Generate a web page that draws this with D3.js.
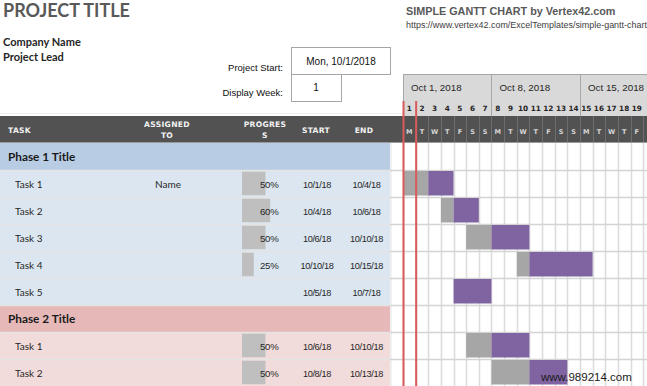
<!DOCTYPE html>
<html><head><meta charset="utf-8">
<script src="https://cdn.jsdelivr.net/npm/d3@7"></script>
<style>html,body{margin:0;padding:0;background:#fff;overflow:hidden}</style>
</head><body><svg id="c" width="647" height="386"></svg>
<script>
// ---------- data ----------
const rowNames   = ["Phase 1 Title","Task 1","Task 2","Task 3","Task 4","Task 5","Phase 2 Title","Task 1","Task 2"];
const rowIsPhase = [true,false,false,false,false,false,true,false,false];
const rowPhase   = [1,1,1,1,1,1,2,2,2];
const assignedTo = ["","Name","","","","","","",""];
const progress   = [null,0.5,0.6,0.5,0.25,null,null,0.5,0.5];
const startDates = [null,"2018-10-01","2018-10-04","2018-10-06","2018-10-10","2018-10-05",null,"2018-10-06","2018-10-08"];
const endDates   = [null,"2018-10-04","2018-10-06","2018-10-10","2018-10-15","2018-10-07",null,"2018-10-10","2018-10-13"];
const dayLetters = ["M","T","W","T","F","S","S"];
const projectStart = "2018-10-01";
const displayWeek = 1;
const headerCols = [
  {lines:["TASK"], anchor:"start"},
  {lines:["ASSIGNED","TO"], anchor:"middle"},
  {lines:["PROGRES","S"], anchor:"middle"},
  {lines:["START"], anchor:"middle"},
  {lines:["END"], anchor:"middle"}
];
const headerColX = [8,167,265,316,364];

// ---------- helpers ----------
const parse = d3.utcParse("%Y-%m-%d");
const fmtShort = d3.utcFormat("%-m/%-d/%y");
const fmtWeek = d3.utcFormat("%b %-d, %Y");
const fmtStart = d3.utcFormat("%a, %-m/%-d/%Y");
const fmtDay = d3.utcFormat("%-d");

const svg = d3.select("#c");
const W = 647, H = 386;

const t0 = parse(projectStart);
const t1 = d3.utcDay.offset(t0, 21);
const dayW = 12.64;
const x = d3.scaleUtc().domain([t0, t1]).range([403, 403 + 21*dayW]);
const days = d3.utcDay.range(t0, t1);
const visDays = days.filter(d => x(d) + dayW <= W);
const weeks = d3.utcMonday.range(t0, t1);

const y = d3.scaleBand().domain(d3.range(rowNames.length)).range([143, 143 + 27*rowNames.length]);
const pw = d3.scaleLinear().domain([0,1]).range([0,47]);

const phaseFill = {1:"#b8cce4", 2:"#e6b8b7"};
const taskFill  = {1:"#dce6f1", 2:"#f2dcdb"};

// ---------- top texts ----------
svg.append("text").attr("x",3).attr("y",17).text("PROJECT TITLE")
  .attr("font-family","Lato").attr("font-weight","bold").attr("font-size",18).attr("fill","#595959");
svg.append("text").attr("x",3).attr("y",46).text("Company Name")
  .attr("font-family","Lato").attr("font-weight","bold").attr("font-size",11).attr("fill","#262626");
svg.append("text").attr("x",3).attr("y",61).text("Project Lead")
  .attr("font-family","Lato").attr("font-weight","bold").attr("font-size",11).attr("fill","#262626");

svg.append("text").attr("x",406).attr("y",15).text("SIMPLE GANTT CHART by Vertex42.com")
  .attr("font-family","Liberation Sans").attr("font-weight","bold").attr("font-size",10.8).attr("fill","#595959");
svg.append("text").attr("x",406).attr("y",28).text("https://www.vertex42.com/ExcelTemplates/simple-gantt-chart.html")
  .attr("font-family","Liberation Sans").attr("font-size",8.95).attr("fill","#404040");

// input boxes
svg.append("rect").attr("x",291.5).attr("y",47.5).attr("width",99).attr("height",27)
  .attr("fill","#fff").attr("stroke","#a6a6a6");
svg.append("rect").attr("x",291.5).attr("y",74.5).attr("width",50).attr("height",27)
  .attr("fill","#fff").attr("stroke","#a6a6a6");
svg.append("text").attr("x",341).attr("y",65).attr("text-anchor","middle").text(fmtStart(t0))
  .attr("font-family","Liberation Sans").attr("font-size",10).attr("fill","#111");
svg.append("text").attr("x",316).attr("y",91).attr("text-anchor","middle").text(displayWeek)
  .attr("font-family","Liberation Sans").attr("font-size",10).attr("fill","#111");
svg.append("text").attr("x",283).attr("y",71).attr("text-anchor","end").text("Project Start:")
  .attr("font-family","Liberation Sans").attr("font-size",9.5).attr("fill","#111");
svg.append("text").attr("x",283).attr("y",96).attr("text-anchor","end").text("Display Week:")
  .attr("font-family","Liberation Sans").attr("font-size",9.5).attr("fill","#111");

svg.append("line").attr("x1",0).attr("x2",403).attr("y1",113.5).attr("y2",113.5).attr("stroke","#ececec");

// ---------- gantt date header ----------
svg.append("rect").attr("x",403).attr("y",74).attr("width",W-403).attr("height",42).attr("fill","#d9d9d9");
svg.append("line").attr("x1",403).attr("x2",W).attr("y1",74.5).attr("y2",74.5).attr("stroke","#a6a6a6");
svg.selectAll(".wsep").data(weeks).join("line")
  .attr("x1",d=>Math.round(x(d))+0.5).attr("x2",d=>Math.round(x(d))+0.5)
  .attr("y1",74).attr("y2",116).attr("stroke","#a6a6a6");
svg.selectAll(".wlab").data(weeks).join("text")
  .attr("x",d=>x(d)+8).attr("y",90.5).text(d=>fmtWeek(d))
  .attr("font-family","Liberation Sans").attr("font-size",9.8).attr("fill","#262626");
svg.selectAll(".dnum").data(visDays).join("text")
  .attr("x",d=>x(d)+dayW/2).attr("y",110.5).attr("text-anchor","middle").text(d=>fmtDay(d))
  .attr("font-family","DejaVu Sans").attr("font-weight","bold").attr("font-size",7.3).attr("fill","#262626");

// ---------- dark header band ----------
svg.append("rect").attr("x",0).attr("y",116).attr("width",W).attr("height",27).attr("fill","#525252");
svg.append("line").attr("x1",0).attr("x2",W).attr("y1",142.5).attr("y2",142.5).attr("stroke","#9a9a9a");
svg.selectAll(".bsep").data(days).join("line")
  .attr("x1",d=>Math.round(x(d))+0.5).attr("x2",d=>Math.round(x(d))+0.5)
  .attr("y1",116).attr("y2",142).attr("stroke","#6e6e6e");
svg.selectAll(".dlet").data(visDays).join("text")
  .attr("x",d=>x(d)+dayW/2).attr("y",133.5).attr("text-anchor","middle")
  .text(d=>dayLetters[(d.getUTCDay()+6)%7])
  .attr("font-family","DejaVu Sans").attr("font-weight","bold").attr("font-size",6.5).attr("fill","#d6d6d6");

headerCols.forEach((h,i)=>{
  const lines = h.lines;
  const ys = lines.length===2 ? [127.3,138.3] : [132.5];
  lines.forEach((ln,j)=>{
    svg.append("text").attr("x",headerColX[i]).attr("y",ys[j]).attr("text-anchor",h.anchor).text(ln)
      .attr("font-family","DejaVu Sans").attr("font-weight","bold").attr("font-size",7.6)
      .attr("letter-spacing",0.3).attr("fill","#f2f2f2");
  });
});

// ---------- left table ----------
const rows = d3.range(rowNames.length);
svg.selectAll(".rbg").data(rows).join("rect")
  .attr("x",0).attr("y",i=>y(i)).attr("width",390).attr("height",y.bandwidth())
  .attr("fill",i=>rowIsPhase[i]?phaseFill[rowPhase[i]]:taskFill[rowPhase[i]]);
svg.selectAll(".rsep").data(rows.filter(i=>i>0)).join("line")
  .attr("x1",0).attr("x2",390).attr("y1",i=>y(i)+0.5).attr("y2",i=>y(i)+0.5)
  .attr("stroke","#e4e4e4").attr("stroke-width",1.6);

svg.selectAll(".pbar").data(rows.filter(i=>progress[i]!=null)).join("rect")
  .attr("x",242).attr("y",i=>y(i)+1.7).attr("width",i=>pw(progress[i])).attr("height",23.5)
  .attr("fill","#bfbfbf");

svg.selectAll(".rname").data(rows).join("text")
  .attr("x",i=>rowIsPhase[i]?8:15).attr("y",i=>y(i)+18)
  .text(i=>rowNames[i])
  .attr("font-family","Lato").attr("font-weight",i=>rowIsPhase[i]?"bold":"normal")
  .attr("font-size",i=>rowIsPhase[i]?11.8:10).attr("fill",i=>rowIsPhase[i]?"#1a1a1a":"#262626");
svg.selectAll(".rassign").data(rows.filter(i=>assignedTo[i])).join("text")
  .attr("x",168).attr("y",i=>y(i)+18).attr("text-anchor","middle").text(i=>assignedTo[i])
  .attr("font-family","Lato").attr("font-size",10).attr("fill","#262626");
svg.selectAll(".rpct").data(rows.filter(i=>progress[i]!=null)).join("text")
  .attr("x",278.5).attr("y",i=>y(i)+17.5).attr("text-anchor","end")
  .text(i=>d3.format(".0%")(progress[i]))
  .attr("font-family","Liberation Sans").attr("font-size",9.6).attr("letter-spacing",-0.2).attr("fill","#262626");
svg.selectAll(".rstart").data(rows.filter(i=>startDates[i])).join("text")
  .attr("x",317).attr("y",i=>y(i)+17.5).attr("text-anchor","middle")
  .text(i=>fmtShort(parse(startDates[i])))
  .attr("font-family","Liberation Sans").attr("font-size",9.2).attr("letter-spacing",-0.35).attr("fill","#262626");
svg.selectAll(".rend").data(rows.filter(i=>endDates[i])).join("text")
  .attr("x",366.5).attr("y",i=>y(i)+17.5).attr("text-anchor","middle")
  .text(i=>fmtShort(parse(endDates[i])))
  .attr("font-family","Liberation Sans").attr("font-size",9.2).attr("letter-spacing",-0.35).attr("fill","#262626");

// ---------- gantt body ----------
const yTop = y.range()[0], yBot = y.range()[1];
svg.append("rect").attr("x",390).attr("y",yTop).attr("width",W-390).attr("height",yBot-yTop).attr("fill","#fff");
svg.selectAll(".vgrid").data(days).join("line")
  .attr("x1",d=>Math.round(x(d))+0.5).attr("x2",d=>Math.round(x(d))+0.5)
  .attr("y1",yTop).attr("y2",yBot).attr("stroke","#dcdcdc").attr("stroke-width",1.6);
svg.append("line").attr("x1",391).attr("x2",391).attr("y1",yTop).attr("y2",yBot).attr("stroke","#e2e2e2");
svg.selectAll(".hgrid").data(rows.filter(i=>i>0)).join("line")
  .attr("x1",390).attr("x2",W).attr("y1",i=>y(i)+0.5).attr("y2",i=>y(i)+0.5)
  .attr("stroke","#d4d4d4").attr("stroke-width",1.6);

const barRows = rows.filter(i=>startDates[i]);
barRows.forEach(i=>{
  const s = parse(startDates[i]);
  const e = d3.utcDay.offset(parse(endDates[i]),1);
  const dur = d3.utcDay.count(s,e);
  const done = Math.floor(dur*(progress[i]||0));
  const m = d3.utcDay.offset(s,done);
  if (done>0) svg.append("rect").attr("x",x(s)).attr("y",y(i)+1).attr("width",x(m)-x(s)).attr("height",y.bandwidth()-2.5)
    .attr("fill","#a6a6a6");
  svg.append("rect").attr("x",x(m)).attr("y",y(i)+1).attr("width",x(e)-x(m)).attr("height",y.bandwidth()-2.5)
    .attr("fill","#8064a2");
});

// today marker (project start column)
const todayCol = [t0, d3.utcDay.offset(t0,1)];
svg.selectAll(".today").data(todayCol).join("line")
  .attr("x1",d=>x(d)+0.5).attr("x2",d=>x(d)+0.5).attr("y1",101).attr("y2",H)
  .attr("stroke","#d85a5a").attr("stroke-width",2);

// watermark
svg.append("text").attr("x",541).attr("y",381).text("www.989214.com")
  .attr("font-family","Liberation Sans").attr("font-size",11.5).attr("fill","#1a1a1a");
</script></body></html>
